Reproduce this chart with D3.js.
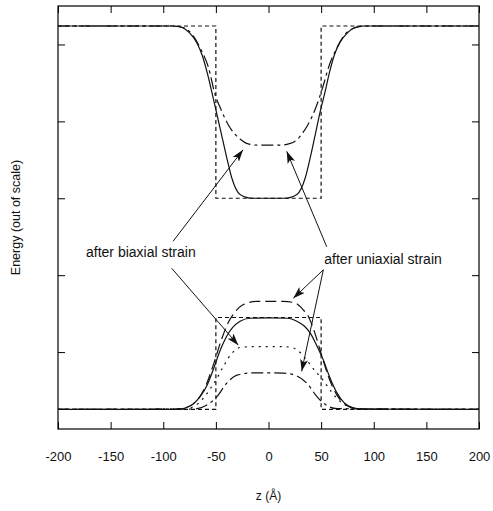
<!DOCTYPE html>
<html>
<head>
<meta charset="utf-8">
<script src="https://cdn.jsdelivr.net/npm/d3@7"></script>
<style>
body { margin: 0; background: #fff; }
text { font-family: "Liberation Sans", Arial, sans-serif; fill: #111; }
</style>
</head>
<body>
<svg id="chart"></svg>
<script>
// square well profiles (unsmoothed)
var wellZ = [-200, -50, -50, 50, 50, 200];
var wellCB = [5.24, 5.24, 3.0, 3.0, 5.24, 5.24];
var wellVB = [0.254, 0.254, 1.45, 1.45, 0.254, 0.254];

// conduction band, unstrained (solid)
var cbZ = [-200, -90, -82, -75, -68, -63, -58, -54, -49, -44, -39, -35, -27, -15, 0, 15, 27, 35, 39, 44, 49, 54, 58, 63, 68, 75, 82, 90, 200];
var cbE = [5.24, 5.24, 5.22, 5.15, 5.02, 4.86, 4.62, 4.39, 4.09, 3.79, 3.49, 3.27, 3.05, 3.0, 3.0, 3.0, 3.05, 3.27, 3.49, 3.80, 4.12, 4.40, 4.64, 4.88, 5.03, 5.15, 5.22, 5.24, 5.24];

// conduction band after strain (dash-dot)
var cbStrZ = [-200, -92, -81, -72, -63, -57, -51, -45, -38, -33, -27, -20, -10, 0, 10, 20, 27, 33, 38, 45, 51, 58, 64, 72, 81, 92, 200];
var cbStrE = [5.24, 5.24, 5.22, 5.12, 4.90, 4.70, 4.36, 4.15, 3.95, 3.85, 3.77, 3.71, 3.69, 3.69, 3.69, 3.71, 3.76, 3.86, 3.97, 4.18, 4.42, 4.74, 4.93, 5.12, 5.21, 5.24, 5.24];

// valence band, unstrained (solid)
var vbZ = [-200, -88, -80, -72, -65, -58, -52, -46, -40, -34, -27, -18, 0, 18, 27, 34, 40, 46, 52, 58, 65, 72, 80, 88, 200];
var vbE = [0.254, 0.255, 0.27, 0.32, 0.42, 0.58, 0.79, 1.02, 1.20, 1.32, 1.40, 1.44, 1.445, 1.44, 1.40, 1.34, 1.24, 1.08, 0.90, 0.68, 0.47, 0.34, 0.28, 0.26, 0.254];

// valence band after uniaxial strain, upper level (long dash)
var vbUniHZ = [-200, -88, -78, -68, -60, -52, -45, -38, -33, -25, -11, 0, 14, 25, 33, 38, 44, 50, 57, 65, 74, 85, 200];
var vbUniHE = [0.254, 0.255, 0.28, 0.37, 0.55, 0.85, 1.15, 1.39, 1.50, 1.61, 1.66, 1.66, 1.66, 1.64, 1.55, 1.46, 1.25, 0.98, 0.68, 0.44, 0.31, 0.26, 0.254];

// valence band after uniaxial strain, lower level (dash-dot)
var vbUniLZ = [-200, -70, -59, -49, -40, -30, -15, 0, 14, 27, 38, 46, 55, 65, 200];
var vbUniLE = [0.254, 0.26, 0.31, 0.42, 0.59, 0.70, 0.73, 0.73, 0.726, 0.69, 0.57, 0.42, 0.31, 0.265, 0.254];

// valence band after biaxial strain (dotted)
var vbBiZ = [-200, -80, -70, -62, -55, -49, -43, -35, -27, -15, 0, 15, 22, 28, 36, 44, 52, 60, 68, 76, 85, 200];
var vbBiE = [0.254, 0.26, 0.30, 0.40, 0.53, 0.66, 0.81, 0.98, 1.06, 1.07, 1.07, 1.07, 1.06, 1.02, 0.90, 0.76, 0.63, 0.48, 0.36, 0.29, 0.26, 0.254];

var xTicks = [-200, -150, -100, -50, 0, 50, 100, 150, 200];
var yTicks = [1, 2, 3, 4, 5];

// annotations: label position and arrows [z0, E0, z1, E1]
var biaxLabel = ["after biaxial strain", -173.4, 2.23];
var uniaxLabel = ["after uniaxial strain", 53, 2.14];
var biaxArrows = [[-90.7, 2.44, -24.2, 3.63], [-92, 2.09, -28.7, 1.09]];
var uniaxArrows = [[55.3, 2.37, 17.3, 3.61], [52.1, 2.07, 23.6, 1.70], [52.1, 2.07, 31.5, 0.75]];

var svg = d3.select("#chart").attr("width", 493).attr("height", 511);

var x = d3.scaleLinear().domain([-200, 200]).range([58, 479]);
var y = d3.scaleLinear().domain([0, 5.5]).range([429, 6]);

svg.append("defs").append("marker")
    .attr("id", "arrow")
    .attr("viewBox", "0 0 12 8")
    .attr("refX", 12).attr("refY", 4)
    .attr("markerWidth", 12).attr("markerHeight", 8)
    .attr("markerUnits", "userSpaceOnUse")
    .attr("orient", "auto")
    .append("path")
    .attr("d", "M0,0 L12,4 L0,8 L3,4 Z")
    .attr("fill", "#111");

// axes with inward ticks
svg.append("g")
    .attr("transform", "translate(0,429)")
    .call(d3.axisBottom(x).tickValues(xTicks).tickSizeInner(-7).tickSizeOuter(0).tickPadding(23).tickFormat(d => String(d)))
    .call(g => g.select(".domain").remove())
    .call(g => g.selectAll("text").attr("font-size", 13).attr("font-family", "Liberation Sans, Arial, sans-serif").attr("fill", "#111"));

svg.append("g")
    .attr("transform", "translate(0,6)")
    .call(d3.axisTop(x).tickValues(xTicks).tickSizeInner(-7).tickSizeOuter(0).tickFormat(""))
    .call(g => g.select(".domain").remove());

svg.append("g")
    .attr("transform", "translate(58,0)")
    .call(d3.axisLeft(y).tickValues(yTicks).tickSizeInner(-7).tickSizeOuter(0).tickFormat(""))
    .call(g => g.select(".domain").remove());

svg.append("g")
    .attr("transform", "translate(479,0)")
    .call(d3.axisRight(y).tickValues(yTicks).tickSizeInner(-7).tickSizeOuter(0).tickFormat(""))
    .call(g => g.select(".domain").remove());

svg.append("rect")
    .attr("x", x(-200)).attr("y", y(5.5))
    .attr("width", x(200) - x(-200)).attr("height", y(0) - y(5.5))
    .attr("fill", "none").attr("stroke", "#000").attr("stroke-width", 1.2);

var series = [
    {z: wellZ, e: wellCB, dash: "4,3", curve: d3.curveLinear},
    {z: wellZ, e: wellVB, dash: "4,3", curve: d3.curveLinear},
    {z: cbZ, e: cbE, dash: null, curve: d3.curveMonotoneX},
    {z: cbStrZ, e: cbStrE, dash: "12,4,3,4", curve: d3.curveMonotoneX},
    {z: vbZ, e: vbE, dash: null, curve: d3.curveMonotoneX},
    {z: vbUniHZ, e: vbUniHE, dash: "11,5", curve: d3.curveMonotoneX},
    {z: vbUniLZ, e: vbUniLE, dash: "12,4,3,4", curve: d3.curveMonotoneX},
    {z: vbBiZ, e: vbBiE, dash: "2,5", curve: d3.curveMonotoneX}
];

series.forEach(function(s) {
    var pts = s.z.map((z, i) => [z, s.e[i]]);
    var line = d3.line().x(d => x(d[0])).y(d => y(d[1])).curve(s.curve);
    svg.append("path")
        .datum(pts)
        .attr("d", line)
        .attr("fill", "none")
        .attr("stroke", "#111")
        .attr("stroke-width", 1.2)
        .attr("stroke-dasharray", s.dash);
});

// annotations
biaxArrows.concat(uniaxArrows).forEach(function(a) {
    svg.append("line")
        .attr("x1", x(a[0])).attr("y1", y(a[1]))
        .attr("x2", x(a[2])).attr("y2", y(a[3]))
        .attr("stroke", "#111").attr("stroke-width", 1)
        .attr("marker-end", "url(#arrow)");
});

[biaxLabel, uniaxLabel].forEach(function(l) {
    svg.append("text")
        .attr("x", x(l[1])).attr("y", y(l[2]))
        .attr("font-size", 14)
        .text(l[0]);
});

svg.append("text")
    .attr("x", x(0)).attr("y", 500)
    .attr("text-anchor", "middle")
    .attr("font-size", 12)
    .text("z (Å)");

svg.append("text")
    .attr("transform", "translate(20," + ((y(0) + y(5.5)) / 2) + ") rotate(-90)")
    .attr("text-anchor", "middle")
    .attr("font-size", 12.5)
    .text("Energy (out of scale)");
</script>
</body>
</html>
